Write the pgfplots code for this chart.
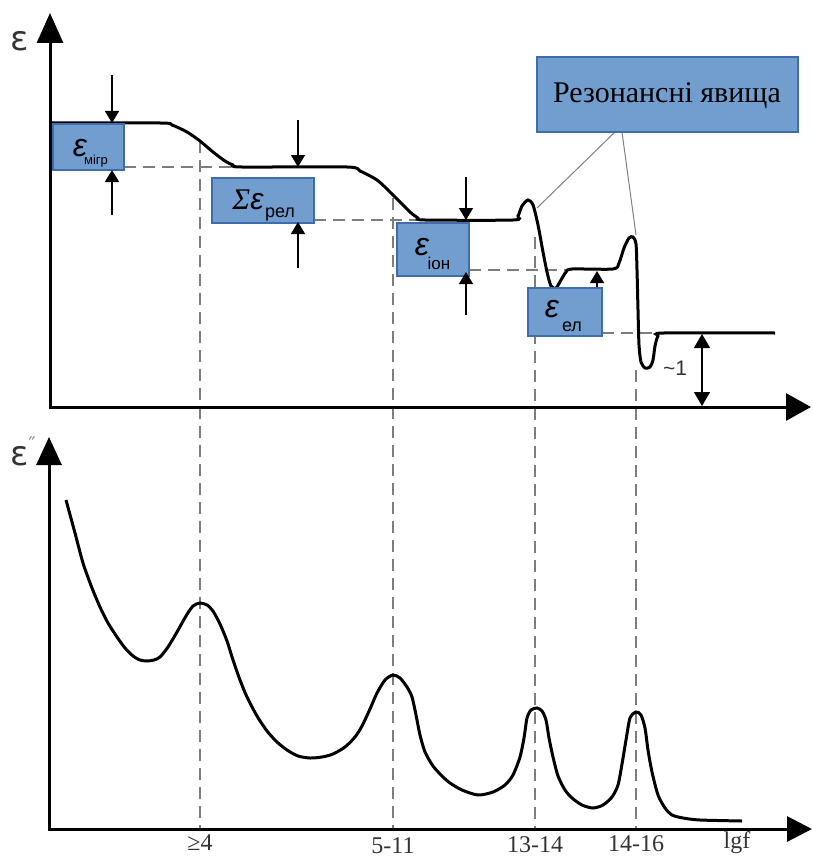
\documentclass[border=0pt]{standalone}
\usepackage{pgfplots}
\pgfplotsset{compat=1.18}
\usepackage{fontspec}
\setmainfont{Liberation Serif}
\newfontfamily\sansf{Liberation Sans}
\newfontfamily\dejavu{DejaVu Sans}
\usetikzlibrary{arrows.meta}
\definecolor{boxfill}{RGB}{114,158,207}
\definecolor{boxdraw}{RGB}{62,108,172}
\definecolor{dashgray}{RGB}{125,125,125}
\begin{document}
\begin{tikzpicture}
\begin{axis}[name=ax, scale only axis, width=406.5pt, height=428pt,
  xmin=0, xmax=813, ymin=0, ymax=856, y dir=reverse, hide axis, clip=false]
% ---------- dashed guide lines ----------
\addplot[dashgray, line width=1pt, dash pattern=on 6pt off 3.5pt] coordinates {(200,141) (200,829)};
\addplot[dashgray, line width=1pt, dash pattern=on 6pt off 3.5pt] coordinates {(393,198) (393,829)};
\addplot[dashgray, line width=1pt, dash pattern=on 6pt off 3.5pt] coordinates {(535,237) (535,829)};
\addplot[dashgray, line width=1pt, dash pattern=on 6pt off 3.5pt] coordinates {(636,370) (636,829)};
\addplot[dashgray, line width=1pt, dash pattern=on 6pt off 3.5pt] coordinates {(124,167) (240,167)};
\addplot[dashgray, line width=1pt, dash pattern=on 6pt off 3.5pt] coordinates {(314,220) (420,220)};
\addplot[dashgray, line width=1pt, dash pattern=on 6pt off 3.5pt] coordinates {(469,270) (567,270)};
\addplot[dashgray, line width=1pt, dash pattern=on 6pt off 3.5pt] coordinates {(602,333) (660,333)};
% ---------- callout lines ----------
\addplot[gray, line width=0.5pt] coordinates {(615,132) (537,208)};
\addplot[gray, line width=0.5pt] coordinates {(622,132) (636,235)};
% ---------- epsilon' curve ----------
\addplot[black, line width=1.5pt, smooth, tension=0.45] coordinates {
(50,123) (160,123) (172,125) (187,132) (200,141) (213,152) (225,161) (233,165) (242,167)
(347,167) (360,171) (377,180) (390,192) (400,202) (410,212) (418,218) (425,220)
(513,220) (518,216) (522,206) (528,200) (533,205) (538,225) (543,252) (547,272) (551,286)
(556,288) (561,280) (566,272) (572,269) (613,269) (619,263) (624,248) (629,238) (633,237)
(636,244) (637,270) (638,310) (639,345) (641,362) (645,368) (650,367) (653,360) (655,346)
(658,336) (664,333) (775,333)};
% ---------- epsilon'' curve ----------
\addplot[black, line width=1.5pt, smooth, tension=0.45] coordinates {
(66,500) (75,533) (83,563) (92,588) (100,607) (108,623) (117,637) (125,648) (133,656)
(140,660) (147,661) (154,660) (160,657) (168,647) (177,632) (186,616) (193,606) (200,603)
(207,605) (213,611) (220,624) (227,641) (233,660) (240,680) (247,697) (257,716) (267,731)
(277,742) (287,750) (298,756) (310,758) (322,757) (333,754) (345,747) (355,737) (362,726)
(370,709) (377,693) (385,680) (393,675) (400,678) (407,687) (412,697) (416,715) (420,735)
(425,752) (433,766) (442,776) (450,783) (462,790) (478,795) (493,792) (505,785) (513,775)
(520,757) (524,738) (527,718) (531,710) (537,708) (542,711) (546,720) (549,738) (553,757)
(558,776) (565,790) (572,798) (582,805) (593,808) (603,805) (612,797) (618,785) (622,764)
(626,740) (630,718) (636,712) (641,715) (645,728) (648,750) (652,772) (658,795) (665,808)
(672,815) (683,818) (700,820) (742,821)};
% ---------- arrow hidden by box 4 ----------
\draw[line width=0.7pt, -{Triangle[length=6pt,width=7pt]}] (axis cs:597,325) -- (axis cs:597,271);
% ---------- boxes ----------
\draw[fill=boxfill, draw=boxdraw, line width=1pt] (axis cs:53,124) rectangle (axis cs:124,170);
\draw[fill=boxfill, draw=boxdraw, line width=1pt] (axis cs:212,178) rectangle (axis cs:314,223);
\draw[fill=boxfill, draw=boxdraw, line width=1pt] (axis cs:397,223) rectangle (axis cs:469,276);
\draw[fill=boxfill, draw=boxdraw, line width=1pt] (axis cs:528,288) rectangle (axis cs:602,336);
\draw[fill=boxfill, draw=boxdraw, line width=1pt] (axis cs:537,57) rectangle (axis cs:798,132);
% ---------- box texts ----------
\node[inner sep=0pt] at (axis cs:80,148) {\sansf\itshape\fontsize{16pt}{16pt}\selectfont ε};
\node[inner sep=0pt] at (axis cs:96,161) {\sansf\fontsize{6.5pt}{6.5pt}\selectfont мігр};
\node[inner sep=0pt] at (axis cs:248,200) {\itshape\fontsize{15pt}{15pt}\selectfont Σ\sansf ε};
\node[inner sep=0pt] at (axis cs:280,215) {\sansf\fontsize{9pt}{9pt}\selectfont рел};
\node[inner sep=0pt] at (axis cs:422,247) {\sansf\itshape\fontsize{16pt}{16pt}\selectfont ε};
\node[inner sep=0pt] at (axis cs:439,263) {\sansf\fontsize{8.5pt}{8.5pt}\selectfont іон};
\node[inner sep=0pt] at (axis cs:552,309) {\sansf\itshape\fontsize{16pt}{16pt}\selectfont ε};
\node[inner sep=0pt] at (axis cs:572,327) {\sansf\fontsize{9pt}{9pt}\selectfont ел};
\node[inner sep=0pt] at (axis cs:667,96) {\fontsize{15pt}{15pt}\selectfont Резонансні явища};
% ---------- small arrows ----------
\draw[line width=0.7pt, -{Triangle[length=6pt,width=7pt]}] (axis cs:112,75) -- (axis cs:112,123);
\draw[line width=0.7pt, -{Triangle[length=6pt,width=7pt]}] (axis cs:112,215) -- (axis cs:112,170);
\draw[line width=0.7pt, -{Triangle[length=6pt,width=7pt]}] (axis cs:298,120) -- (axis cs:298,167);
\draw[line width=0.7pt, -{Triangle[length=6pt,width=7pt]}] (axis cs:298,268) -- (axis cs:298,222);
\draw[line width=0.7pt, -{Triangle[length=6pt,width=7pt]}] (axis cs:466,177) -- (axis cs:466,220);
\draw[line width=0.7pt, -{Triangle[length=6pt,width=7pt]}] (axis cs:466,315) -- (axis cs:466,272);
\draw[line width=0.7pt, {Triangle[length=7pt,width=8pt]}-{Triangle[length=7pt,width=8pt]}] (axis cs:702,334) -- (axis cs:702,406);
\node[inner sep=0pt, text=black!80] at (axis cs:675,368) {\sansf\fontsize{10.5pt}{10.5pt}\selectfont \textasciitilde 1};
% ---------- axes ----------
\draw[line width=1.5pt, -{Triangle[length=15pt,width=13pt]}] (axis cs:50,408) -- (axis cs:50,13);
\draw[line width=1.5pt, -{Triangle[length=12.5pt,width=13.5pt]}] (axis cs:49,407) -- (axis cs:811,407);
\draw[line width=1.5pt, -{Triangle[length=14pt,width=12.5pt]}] (axis cs:49,830) -- (axis cs:49,437);
\draw[line width=1.5pt, -{Triangle[length=12.5pt,width=12.5pt]}] (axis cs:48,829) -- (axis cs:812,829);
% ---------- axis labels ----------
\node[inner sep=0pt, text=black!80] at (axis cs:20,41) {\dejavu\fontsize{17pt}{17pt}\selectfont ε};
\node[inner sep=0pt, text=black!80] at (axis cs:20,456) {\dejavu\fontsize{17pt}{17pt}\selectfont ε};
\node[inner sep=0pt, text=black!45] at (axis cs:32,444) {\dejavu\fontsize{10pt}{10pt}\selectfont ″};
% ---------- tick labels ----------
\node[inner sep=0pt, text=black!80] at (axis cs:200,843) {\fontsize{12pt}{12pt}\selectfont ≥4};
\node[inner sep=0pt, text=black!80] at (axis cs:393,846) {\fontsize{12pt}{12pt}\selectfont 5-11};
\node[inner sep=0pt, text=black!80] at (axis cs:535,845) {\fontsize{12pt}{12pt}\selectfont 13-14};
\node[inner sep=0pt, text=black!80] at (axis cs:636,844) {\fontsize{12pt}{12pt}\selectfont 14-16};
\node[inner sep=0pt, text=black!80] at (axis cs:737,843) {\fontsize{12pt}{12pt}\selectfont lgf};
\end{axis}
\pgfresetboundingbox
\path (ax.south west) rectangle (ax.north east);
\end{tikzpicture}
\end{document}
